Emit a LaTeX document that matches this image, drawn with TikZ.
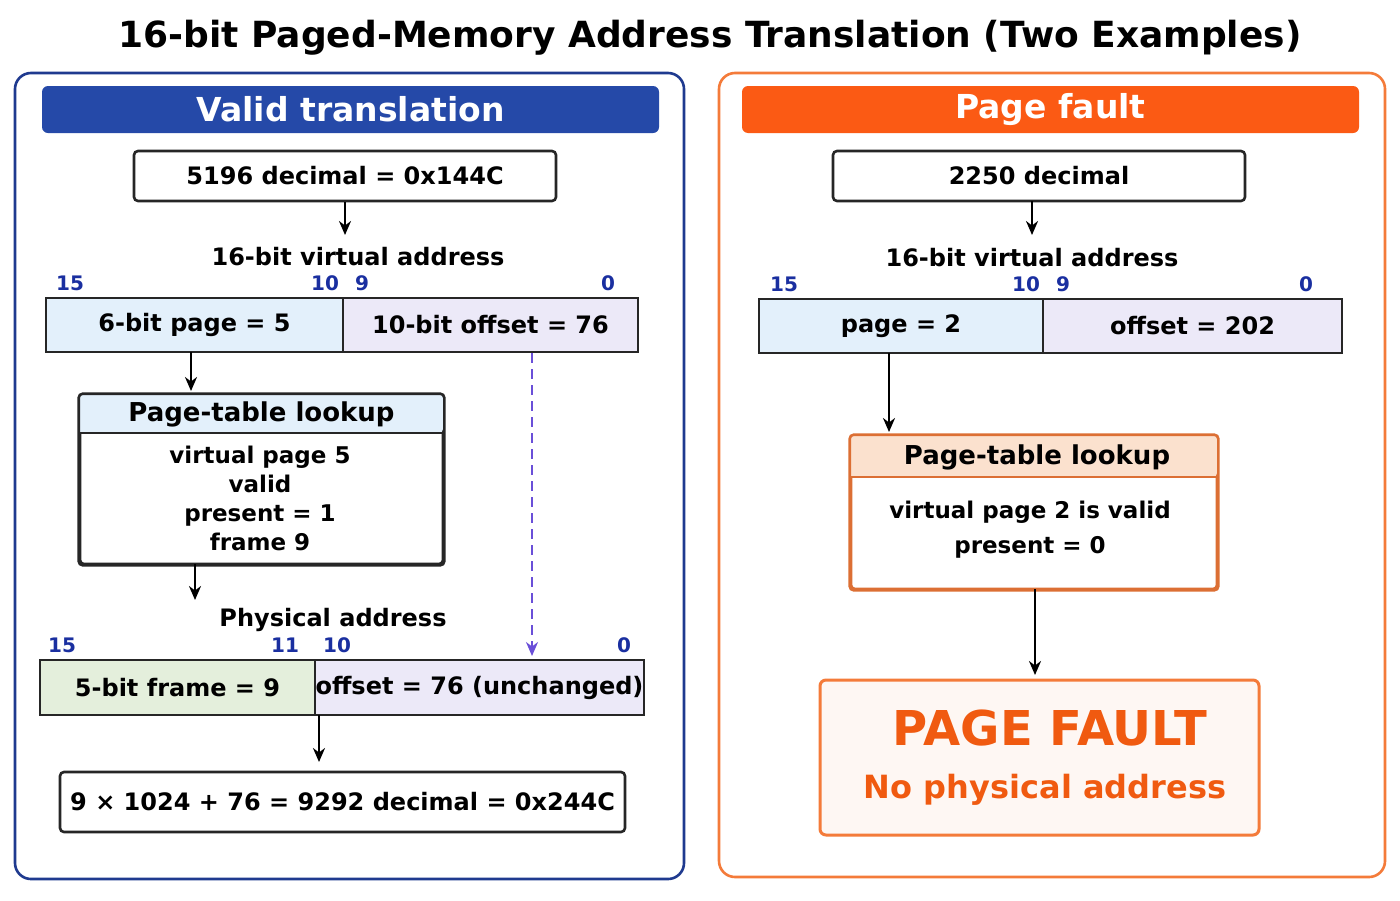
\documentclass[tikz,border=0pt]{standalone}
\usepackage{fontspec}
\setmainfont{DejaVu Sans}
\usetikzlibrary{arrows.meta,calc}
\definecolor{bdark}{HTML}{1F3A8F}
\definecolor{bhead}{HTML}{2549A8}
\definecolor{bitc}{HTML}{1A2FA0}
\definecolor{lblue}{HTML}{E3F0FB}
\definecolor{lvio}{HTML}{ECE9F8}
\definecolor{lgreen}{HTML}{E4EFDC}
\definecolor{oline}{HTML}{F47B3A}
\definecolor{ohead}{HTML}{FB5A14}
\definecolor{opeach}{HTML}{FBE1CE}
\definecolor{otext}{HTML}{F05A10}
\definecolor{dpurp}{HTML}{6A4FD8}
\tikzset{
 box/.style={draw=black!85,line width=1.3pt,rounded corners=2pt,inner sep=0pt,font=\bfseries\fontsize{12}{14}\selectfont},
 cell/.style={draw=black!85,line width=1.3pt,inner sep=0pt,font=\bfseries\fontsize{12}{14}\selectfont},
 bit/.style={text=bitc,font=\bfseries\fontsize{10}{12}\selectfont},
 lbl/.style={font=\bfseries\fontsize{12}{14}\selectfont},
 arr/.style={-{Stealth[length=7pt,width=6pt]},line width=1.2pt},
 hdr/.style={rounded corners=3pt,inner sep=0pt,text=white,font=\bfseries\fontsize{16.5}{18}\selectfont},
}
\begin{document}
\begin{tikzpicture}[x=0.5pt,y=-0.5pt]
\useasboundingbox (0,0) rectangle (1400,900);
\fill[white] (0,0) rectangle (1400,900);
\node[font=\bfseries\fontsize{18}{20}\selectfont] (title) at (710,38) {16-bit Paged-Memory Address Translation (Two Examples)};
% left panel
\draw[bdark,line width=1.3pt,rounded corners=8pt] (15,73) rectangle (684,879);
\node[hdr,fill=bhead,minimum width=308.5pt,minimum height=23.5pt] (lh) at (350.5,109.5) {Valid translation};
\node[box,minimum width=211pt,minimum height=25pt] (la) at (345,176) {5196 decimal = 0x144C};
\node[lbl] (lva) at (358,257) {16-bit virtual address};
\draw[arr] (la.south) -- (la.south |- 0,235);
\node[bit] (b1) at (70,283) {15};
\node[bit] (b2) at (325,283) {10};
\node[bit] (b3) at (362,283) {9};
\node[bit] (b4) at (608,283) {0};
\node[cell,fill=lblue,minimum width=148.5pt,minimum height=27pt] (lpg) at (194.5,325) {6-bit page = 5};
\node[cell,fill=lvio,minimum width=147.5pt,minimum height=27pt] (lof) at (490.5,325) {10-bit offset = 76};
\node[box,minimum width=181.5pt,minimum height=84.5pt] (lk) at (261.5,479.5) {};
\fill[lblue,rounded corners=2pt] (lk.north west) rectangle (443,433);
\draw[black!85,line width=1.3pt] (80,433) -- (443,433);
\draw[black!85,line width=1.3pt,rounded corners=2pt] (lk.north west) rectangle (lk.south east);
\node[lbl,font=\bfseries\fontsize{13}{15}\selectfont] (lkh) at (261.5,414) {Page-table lookup};
\node[lbl,align=center,font=\bfseries\fontsize{11.5}{14.5}\selectfont] (lkt) at (260,498) {virtual page 5\\valid\\present = 1\\frame 9};
\draw[arr] (191,352) -- (191,391);
\coordinate (ca) at (195,600);
\draw[arr] (195,564) -- (ca);
\node[lbl] (lpa) at (333,620) {Physical address};
\node[bit] (c1) at (62,645) {15};
\node[bit] (c2) at (285,645) {11};
\node[bit] (c3) at (337,645) {10};
\node[bit] (c4) at (624,645) {0};
\node[cell,fill=lgreen,minimum width=137.5pt,minimum height=27.5pt] (lfr) at (177.5,687.5) {5-bit frame = 9};
\node[cell,fill=lvio,minimum width=164.5pt,minimum height=27.5pt] (lpo) at (479.5,687.5) {offset = 76 (unchanged)};
\draw[arr,dpurp,dashed,dash pattern=on 5pt off 3pt,line width=1pt] (532,353) -- (532,656);
\draw[arr] (319,715) -- (319,762);
\node[box,minimum width=282.5pt,minimum height=30pt] (lres) at (342.5,802) {9 × 1024 + 76 = 9292 decimal = 0x244C};
% right panel
\draw[oline,line width=1.3pt,rounded corners=8pt] (719,73) rectangle (1385,877);
\node[hdr,fill=ohead,minimum width=308.5pt,minimum height=23.5pt] (rh) at (1050.5,109.5) {Page fault};
\node[box,minimum width=206pt,minimum height=25pt] (ra) at (1039,176) {2250 decimal};
\draw[arr] (1032,201) -- (1032,235);
\node[lbl] (rva) at (1032,258) {16-bit virtual address};
\node[bit] (d1) at (784,284) {15};
\node[bit] (d2) at (1026,284) {10};
\node[bit] (d3) at (1063,284) {9};
\node[bit] (d4) at (1306,284) {0};
\node[cell,fill=lblue,minimum width=142pt,minimum height=27pt] (rpg) at (901,326) {page = 2};
\node[cell,fill=lvio,minimum width=149.5pt,minimum height=27pt] (rof) at (1192.5,326) {offset = 202};
\node[box,draw=oline!90!black,minimum width=183pt,minimum height=76.5pt] (rk) at (1034,512.5) {};
\fill[opeach,rounded corners=2pt] (rk.north west) rectangle (1217,477);
\draw[oline!90!black,line width=1.3pt] (851,477) -- (1217,477);
\draw[oline!90!black,line width=1.3pt,rounded corners=2pt] (rk.north west) rectangle (rk.south east);
\node[lbl,font=\bfseries\fontsize{13}{15}\selectfont] (rkh) at (1037,457) {Page-table lookup};
\node[lbl,align=center,font=\bfseries\fontsize{11.5}{17.5}\selectfont] (rkt) at (1030,529.5) {virtual page 2 is valid\\present = 0};
\draw[arr] (889,353) -- (889,432);
\draw[arr] (1035,589) -- (1035,675);
\node[draw=oline,fill=oline!6,line width=1.5pt,rounded corners=3pt,minimum width=219.5pt,minimum height=77.5pt,inner sep=0pt] (rf) at (1039.5,757.5) {};
\node[text=otext,font=\bfseries\fontsize{24}{26}\selectfont] (rft) at (1050,728) {PAGE FAULT};
\node[text=otext,font=\bfseries\fontsize{16}{18}\selectfont] (rfs) at (1045,790) {No physical address};
\end{tikzpicture}
\end{document}
